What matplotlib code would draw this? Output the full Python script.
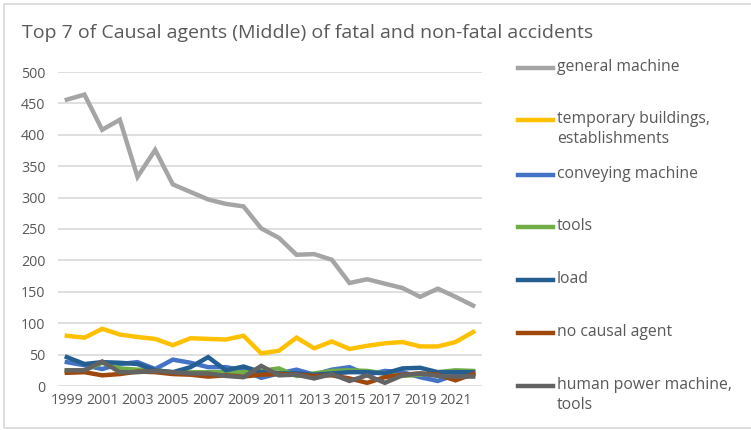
import matplotlib
matplotlib.use("Agg")
import matplotlib.pyplot as plt
from matplotlib.lines import Line2D
from matplotlib.patches import Rectangle

plt.rcParams['font.family'] = ['Open Sans', 'DejaVu Sans']

# --- data ---
years = list(range(1999, 2023))
general_machine = [456, 464, 408, 424, 333, 376, 321, 309, 297, 290, 286, 251,
                   236, 209, 210, 201, 164, 170, 163, 156, 142, 155, 142, 128]
temporary_buildings = [80, 77, 91, 82, 78, 75, 65, 76, 75, 74, 80, 52,
                       56, 77, 60, 71, 59, 64, 68, 70, 63, 63, 70, 86]
conveying_machine = [38, 33, 27, 35, 38, 27, 42, 37, 30, 30, 25, 13,
                     20, 26, 18, 26, 30, 18, 24, 22, 14, 8, 18, 18]
tools = [24, 25, 37, 28, 26, 25, 22, 22, 22, 22, 22, 24,
         28, 16, 20, 24, 25, 24, 20, 16, 18, 22, 25, 24]
load = [46, 35, 38, 37, 35, 25, 22, 30, 46, 25, 31, 22,
        20, 20, 18, 20, 22, 22, 20, 28, 29, 22, 22, 22]
no_causal_agent = [21, 22, 17, 19, 23, 22, 19, 18, 15, 17, 15, 18,
                   19, 18, 16, 17, 12, 5, 14, 18, 20, 18, 9, 19]
human_power = [25, 25, 39, 22, 22, 24, 22, 20, 20, 16, 14, 32,
               17, 18, 12, 19, 8, 17, 5, 17, 20, 16, 15, 15]

series = [
    ("general machine", general_machine, "#A5A5A5"),
    ("temporary buildings,\nestablishments", temporary_buildings, "#FFC000"),
    ("conveying machine", conveying_machine, "#4472C4"),
    ("tools", tools, "#70AD47"),
    ("load", load, "#255E91"),
    ("no causal agent", no_causal_agent, "#9E480E"),
    ("human power machine,\ntools", human_power, "#636363"),
]

txt = "#595959"

fig = plt.figure(figsize=(7.51, 4.30), dpi=100)
fig.patches.append(Rectangle((4 / 751, 1 - 428 / 430), 1.0, 424 / 430,
                             transform=fig.transFigure, fill=False,
                             edgecolor="#D9D9D9", linewidth=1.2))

ax = fig.add_axes([58 / 751, 1 - 386 / 430, 424 / 751, 314 / 430])
x = list(range(len(years)))
for name, vals, col in series:
    ax.plot(x, vals, color=col, linewidth=3.2, solid_joinstyle="miter", label=name)

ax.set_xlim(-0.5, len(years) - 0.5)
ax.set_ylim(0, 500)
ax.set_yticks(range(0, 501, 50))
ax.set_xticks(x[::2])
ax.set_xticklabels([str(y) for y in years[::2]])
ax.grid(axis="y", color="#D9D9D9", linewidth=1.2)
ax.set_axisbelow(True)
for s in ax.spines.values():
    s.set_visible(False)
ax.tick_params(length=0, labelsize=10.3, colors=txt)
ax.tick_params(axis="y", pad=9)
ax.tick_params(axis="x", pad=5)

fig.text(22 / 751, 1 - 33 / 430, "Top 7 of Causal agents (Middle) of fatal and non-fatal accidents",
         fontsize=14, color=txt, va="center", ha="left")

# legend drawn by hand to keep the spacing of the original
leg_y = [68, 120, 175, 227, 280, 333, 386]
for (name, vals, col), yy in zip(series, leg_y):
    yf = 1 - yy / 430
    fig.add_artist(Line2D([518 / 751, 553 / 751], [yf, yf], color=col,
                          linewidth=3.2, transform=fig.transFigure))
    fig.text(557 / 751, yf + 9 / 430, name, fontsize=11.3, color=txt,
             va="top", ha="left", linespacing=1.3)

fig.savefig("out.png", dpi=100)
